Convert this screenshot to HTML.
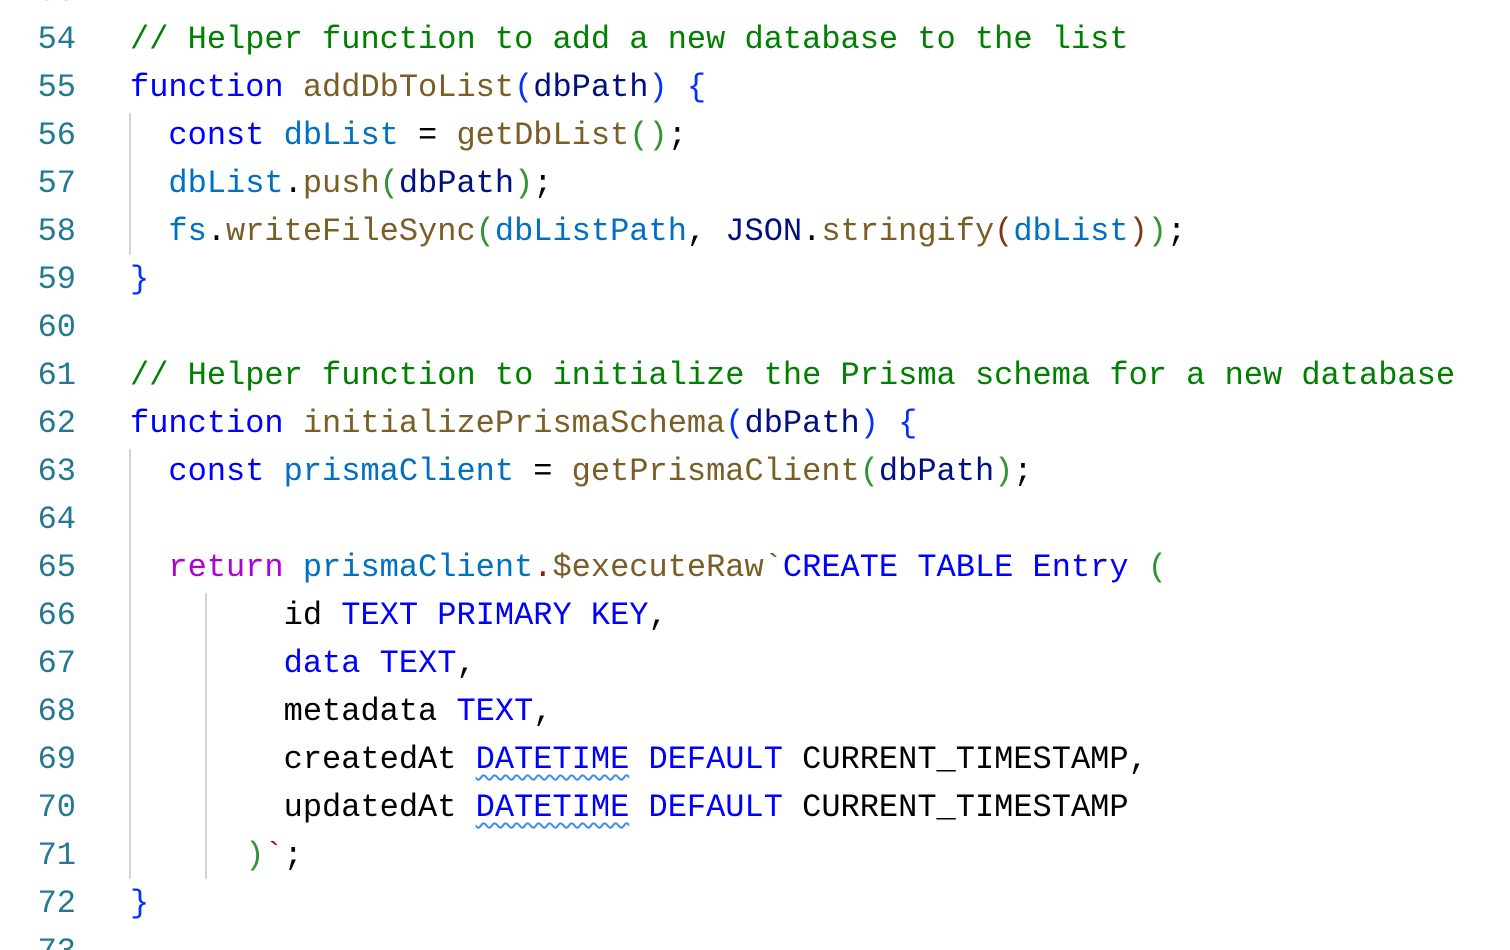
<!DOCTYPE html>
<html><head><meta charset="utf-8"><style>
html,body{margin:0;padding:0;background:#fff;width:1510px;height:950px;overflow:hidden;position:relative}
.ln{position:absolute;left:0;width:76px;text-align:right;color:#237893;font:32px/48px "Liberation Mono",monospace}
.code{position:absolute;left:130px;font:32px/48px "Liberation Mono",monospace;color:#000;white-space:pre}
.row{height:48px}
.k{color:#0000ff}.f{color:#795e26}.v{color:#0070c1}.p{color:#001080}.c{color:#008000}
.b1{color:#0431fa}.b2{color:#319331}.b3{color:#7b3814}.r{color:#af00db}.s{color:#a31515}
.w{text-decoration:underline wavy #3d8fe8;text-decoration-thickness:1.5px;text-underline-offset:6px}
.g{position:absolute;width:2px;background:#d3d3d3}
</style></head><body>
<div class="ln" style="top:-32px">53<br>54<br>55<br>56<br>57<br>58<br>59<br>60<br>61<br>62<br>63<br>64<br>65<br>66<br>67<br>68<br>69<br>70<br>71<br>72<br>73</div>
<div class="g" style="left:129px;top:113px;height:142px"></div>
<div class="g" style="left:129px;top:449px;height:430px"></div>
<div class="g" style="left:205px;top:593px;height:286px"></div>
<div class="code" style="top:-32px"><div class="row"></div><div class="row"><span class="c">// Helper function to add a new database to the list</span></div><div class="row"><span class="k">function</span> <span class="f">addDbToList</span><span class="b1">(</span><span class="p">dbPath</span><span class="b1">)</span> <span class="b1">{</span></div><div class="row">  <span class="k">const</span> <span class="v">dbList</span> = <span class="f">getDbList</span><span class="b2">()</span>;</div><div class="row">  <span class="v">dbList</span>.<span class="f">push</span><span class="b2">(</span><span class="p">dbPath</span><span class="b2">)</span>;</div><div class="row">  <span class="v">fs</span>.<span class="f">writeFileSync</span><span class="b2">(</span><span class="v">dbListPath</span>, <span class="p">JSON</span>.<span class="f">stringify</span><span class="b3">(</span><span class="v">dbList</span><span class="b3">)</span><span class="b2">)</span>;</div><div class="row"><span class="b1">}</span></div><div class="row"></div><div class="row"><span class="c">// Helper function to initialize the Prisma schema for a new database</span></div><div class="row"><span class="k">function</span> <span class="f">initializePrismaSchema</span><span class="b1">(</span><span class="p">dbPath</span><span class="b1">)</span> <span class="b1">{</span></div><div class="row">  <span class="k">const</span> <span class="v">prismaClient</span> = <span class="f">getPrismaClient</span><span class="b2">(</span><span class="p">dbPath</span><span class="b2">)</span>;</div><div class="row"></div><div class="row">  <span class="r">return</span> <span class="v">prismaClient</span><span class="s">.</span><span class="f">$executeRaw</span><span class="f">`</span><span class="k">CREATE TABLE Entry </span><span class="b2">(</span></div><div class="row">        id <span class="k">TEXT PRIMARY KEY</span>,</div><div class="row">        <span class="k">data TEXT</span>,</div><div class="row">        metadata <span class="k">TEXT</span>,</div><div class="row">        createdAt <span class="k w">DATETIME</span> <span class="k">DEFAULT</span> CURRENT_TIMESTAMP,</div><div class="row">        updatedAt <span class="k w">DATETIME</span> <span class="k">DEFAULT</span> CURRENT_TIMESTAMP</div><div class="row">      <span class="b2">)</span><span class="s">`</span>;</div><div class="row"><span class="b1">}</span></div></div>
</body></html>
